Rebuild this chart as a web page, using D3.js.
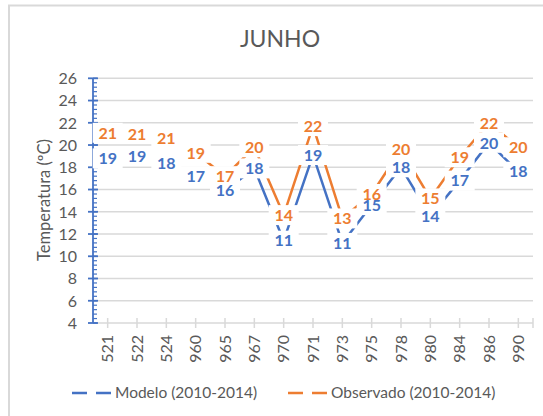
<!DOCTYPE html>
<html>
<head>
<meta charset="utf-8">
<script src="https://cdn.jsdelivr.net/npm/d3@7/dist/d3.min.js"></script>
<style>
    body { margin: 0; background: #fff; }
    svg text { font-family: Lato, "Open Sans", sans-serif; }
</style>
</head>
<body>
<svg id="chart"></svg>
<script>
let categories = ["521", "522", "524", "960", "965", "967", "970", "971", "973", "975", "978", "980", "984", "986", "990"];
let modelo = [18.8, 19.0, 18.4, 17.2, 15.9, 17.9, 11.4, 19.1, 11.2, 14.6, 18.0, 13.6, 16.8, 20.2, 17.6];
let observado = [21.1, 21.0, 20.6, 19.3, 17.2, 19.8, 13.7, 21.7, 13.4, 15.6, 19.6, 15.2, 18.9, 22.0, 19.8];
let yTicks = [4, 6, 8, 10, 12, 14, 16, 18, 20, 22, 24, 26];
let seriesNames = ["Modelo (2010-2014)", "Observado (2010-2014)"];
let seriesColors = ["#4472C4", "#ED7D31"];

let width = 543, height = 416;
let margin = {top: 78.3, right: 10, bottom: 93, left: 93};
let gridColor = "#D9D9D9", textColor = "#595959";
let fmt = d3.format(".0f");

let svg = d3.select("#chart")
    .attr("width", width)
    .attr("height", height);

// chart border (only left and top edges are inside the window)
svg.append("path")
    .attr("d", "M9," + height + "V5.5H" + width)
    .attr("fill", "none")
    .attr("stroke", gridColor)
    .attr("stroke-width", 2);

let x = d3.scaleBand()
    .domain(categories)
    .range([margin.left, width - margin.right]);
let y = d3.scaleLinear()
    .domain([4, 26])
    .range([height - margin.bottom, margin.top]);
let cx = function(c) { return x(c) + x.bandwidth() / 2; };

// title
svg.append("text")
    .attr("x", 280)
    .attr("y", 47)
    .attr("text-anchor", "middle")
    .attr("fill", textColor)
    .style("font-size", "23px")
    .text("JUNHO");

// gridlines
svg.append("g")
    .selectAll("line")
    .data(yTicks.slice(1))
    .enter().append("line")
    .attr("x1", margin.left)
    .attr("x2", width - margin.right)
    .attr("y1", function(d) { return y(d); })
    .attr("y2", function(d) { return y(d); })
    .attr("stroke", gridColor)
    .attr("stroke-width", 1.5);

// x axis
let xAxis = svg.append("g");
xAxis.append("line")
    .attr("x1", margin.left)
    .attr("x2", width - margin.right)
    .attr("y1", y(4))
    .attr("y2", y(4))
    .attr("stroke", gridColor)
    .attr("stroke-width", 1.5);
xAxis.selectAll(".xt")
    .data(categories.map(cx).concat([width - margin.right]))
    .enter().append("line")
    .attr("class", "xt")
    .attr("x1", function(d) { return d; })
    .attr("x2", function(d) { return d; })
    .attr("y1", y(4) - 5)
    .attr("y2", y(4) + 5)
    .attr("stroke", gridColor)
    .attr("stroke-width", 1.5);
xAxis.selectAll(".xl")
    .data(categories)
    .enter().append("text")
    .attr("class", "xl")
    .attr("transform", function(d) { return "translate(" + cx(d) + "," + (y(4) + 12) + ") rotate(-90)"; })
    .attr("dy", "0.36em")
    .attr("text-anchor", "end")
    .attr("fill", textColor)
    .style("font-size", "16px")
    .text(function(d) { return d; });

// y axis (blue, with cross major ticks and inner minor ticks)
let yAxis = svg.append("g").attr("stroke", seriesColors[0]);
yAxis.append("line")
    .attr("x1", margin.left)
    .attr("x2", margin.left)
    .attr("y1", y(4))
    .attr("y2", y(26))
    .attr("stroke-width", 1.8);
yAxis.selectAll(".minor")
    .data(d3.range(4, 26.01, 0.4))
    .enter().append("line")
    .attr("x1", margin.left)
    .attr("x2", margin.left + 4)
    .attr("y1", function(d) { return y(d); })
    .attr("y2", function(d) { return y(d); })
    .attr("stroke-width", 1.2);
yAxis.selectAll(".major")
    .data(yTicks)
    .enter().append("line")
    .attr("x1", margin.left - 5)
    .attr("x2", margin.left + 5)
    .attr("y1", function(d) { return y(d); })
    .attr("y2", function(d) { return y(d); })
    .attr("stroke-width", 1.8);
svg.append("g")
    .selectAll("text")
    .data(yTicks)
    .enter().append("text")
    .attr("x", 77)
    .attr("y", function(d) { return y(d); })
    .attr("dy", "0.36em")
    .attr("text-anchor", "end")
    .attr("fill", textColor)
    .style("font-size", "16px")
    .text(function(d) { return d; });

svg.append("text")
    .attr("transform", "translate(50,200) rotate(-90)")
    .attr("text-anchor", "middle")
    .attr("fill", textColor)
    .style("font-size", "16.5px")
    .text("Temperatura (ºC)");

// series lines
let series = [modelo, observado];
let line = d3.line()
    .x(function(d, i) { return cx(categories[i]); })
    .y(function(d) { return y(d); });
series.forEach(function(values, k) {
    svg.append("path")
        .datum(values)
        .attr("d", line)
        .attr("fill", "none")
        .attr("stroke", seriesColors[k])
        .attr("stroke-width", 2.5)
        .attr("stroke-linejoin", "round");
});

// data labels centred on the points: white boxes first, then all the numbers
let points = [];
series.forEach(function(values, k) {
    values.forEach(function(v, i) { points.push({k: k, c: categories[i], v: v}); });
});
let pos = function(d) { return "translate(" + cx(d.c) + "," + y(d.v) + ")"; };
svg.append("g")
    .selectAll("rect")
    .data(points)
    .enter().append("rect")
    .attr("transform", pos)
    .attr("x", -15)
    .attr("y", -10)
    .attr("width", 30)
    .attr("height", 20)
    .attr("fill", "#fff");
svg.append("g")
    .selectAll("text")
    .data(points)
    .enter().append("text")
    .attr("transform", pos)
    .attr("dy", "0.36em")
    .attr("text-anchor", "middle")
    .attr("fill", function(d) { return seriesColors[d.k]; })
    .style("font-size", "16px")
    .style("font-weight", "bold")
    .text(function(d) { return fmt(d.v); });

// legend
let legendX = [72, 288];
let legend = svg.append("g")
    .selectAll("g")
    .data(seriesNames)
    .enter().append("g")
    .attr("transform", function(d, i) { return "translate(" + legendX[i] + ",393)"; });
legend.append("line")
    .attr("x1", 0)
    .attr("x2", 39)
    .attr("stroke", function(d, i) { return seriesColors[i]; })
    .attr("stroke-width", 2.5);
legend.append("rect")
    .attr("x", 15)
    .attr("y", -5)
    .attr("width", 9)
    .attr("height", 10)
    .attr("fill", "#fff");
legend.append("text")
    .attr("x", 43)
    .attr("dy", "0.35em")
    .attr("fill", textColor)
    .style("font-size", "15.5px")
    .text(function(d) { return d; });
</script>
</body>
</html>
